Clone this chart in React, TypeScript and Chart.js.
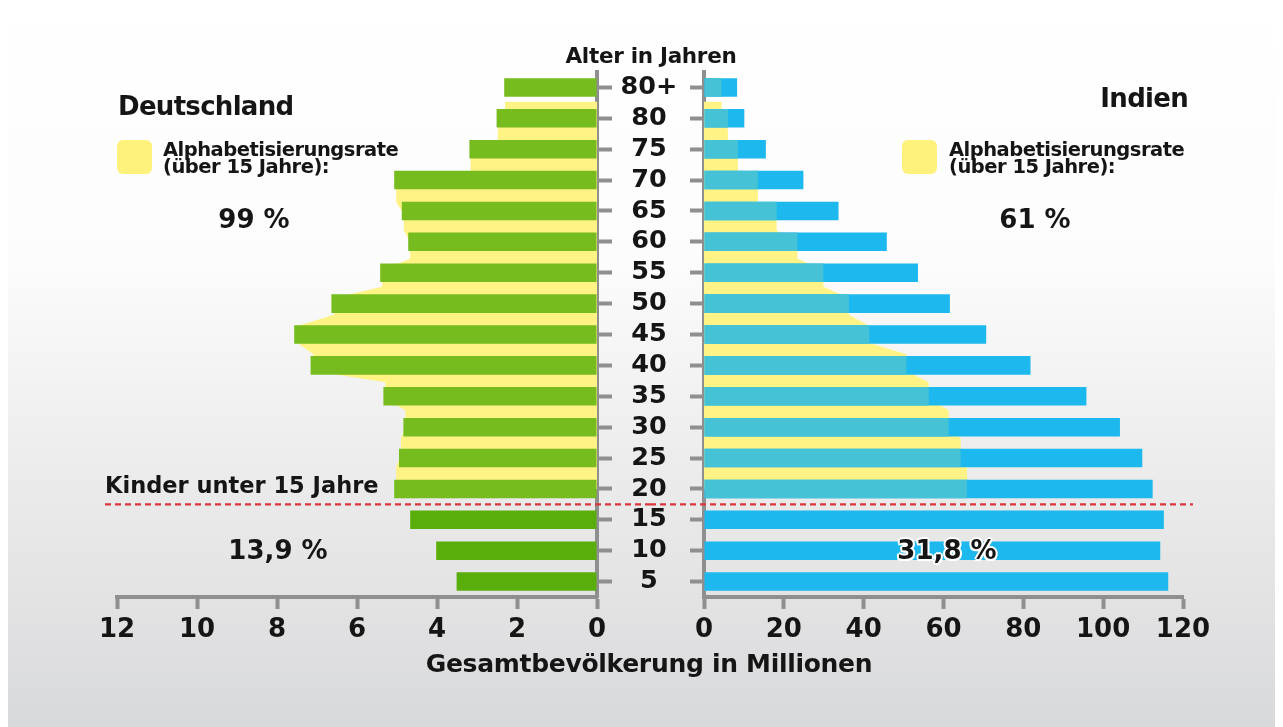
import React, { useEffect, useRef } from 'react';
import { Chart, registerables } from 'chart.js';

Chart.register(...registerables);

// ---------------- data ----------------
const ageLabels = ['80+', '80', '75', '70', '65', '60', '55', '50', '45', '40', '35', '30', '25', '20', '15', '10', '5'];
const childAgeLabels = ['15', '10', '5'];

// population in millions per age group (top = 80+, bottom = 5)
const germanyPopulation = [2.32, 2.51, 3.19, 5.07, 4.88, 4.72, 5.42, 6.64, 7.57, 7.16, 5.34, 4.84, 4.95, 5.07, 4.67, 4.02, 3.51];
// literate population (over 15), age groups 80+ .. 20
const germanyLiterate = [2.3, 2.48, 3.16, 5.02, 4.83, 4.67, 5.37, 6.57, 7.49, 7.09, 5.29, 4.79, 4.9, 5.02];

const indiaPopulation = [8.3, 10.1, 15.5, 24.9, 33.7, 45.8, 53.6, 61.6, 70.7, 81.8, 95.8, 104.2, 109.8, 112.4, 115.2, 114.3, 116.3];
const indiaLiterate = [4.4, 6.0, 8.5, 13.5, 18.2, 23.4, 29.9, 36.3, 41.4, 50.7, 56.3, 61.3, 64.3, 65.9];

const germanyAxisMax = 12;
const germanyTickStep = 2;
const indiaAxisMax = 120;
const indiaTickStep = 20;

// ---------------- style ----------------
const FONT = "'DejaVu Sans', 'Noto Sans', sans-serif";
const AXIS_GRAY = '#8f8f8f';
const GREEN = '#76bc1e';
const GREEN_CHILD = '#5aae0b';
const YELLOW = '#fff385';
const BLUE = '#1cb8ee';
const TEAL = '#46c2d6';
const RED = '#d9363e';
const TEXT = '#151515';
const BAR_FRACTION = 0.6;

function literacyPoints(values: number[]) {
  const half = BAR_FRACTION / 2;
  const pts: { x: number; y: number }[] = [];
  values.forEach((v, i) => {
    pts.push({ x: v, y: i - half });
    pts.push({ x: v, y: i + half });
  });
  pts.push({ x: values[values.length - 1], y: values.length - 0.5 });
  return pts;
}

function dashedLinePlugin(x0: number, x1: number) {
  return {
    id: 'childLine',
    afterDraw(chart: any) {
      const y = chart.scales.y;
      const i = ageLabels.indexOf(childAgeLabels[0]);
      const py = (y.getPixelForValue(i - 1) + y.getPixelForValue(i)) / 2;
      const ctx = chart.ctx;
      ctx.save();
      ctx.strokeStyle = RED;
      ctx.lineWidth = 2.2;
      ctx.setLineDash([6, 4]);
      ctx.lineDashOffset = 0;
      ctx.beginPath();
      ctx.moveTo(x0, py);
      ctx.lineTo(x1, py);
      ctx.stroke();
      ctx.restore();
    },
  };
}

const tickFont = (size: number) => ({ family: FONT, size, weight: 'bold' as const });

function xScale(max: number, step: number, reverse: boolean) {
  return {
    type: 'linear',
    axis: 'x',
    position: 'bottom',
    min: 0,
    max,
    reverse,
    ticks: { stepSize: step, font: tickFont(26), color: TEXT, padding: 6, maxRotation: 0, autoSkip: false },
    grid: { drawOnChartArea: false, drawTicks: true, tickLength: 12, tickWidth: 4, color: AXIS_GRAY },
    border: { display: true, width: 4, color: AXIS_GRAY },
    afterFit: (s: any) => {
      s.height = 80;
    },
  };
}

const y2Scale = {
  type: 'linear',
  axis: 'y',
  display: false,
  min: -0.5,
  max: ageLabels.length - 0.5,
  reverse: true,
};

function Txt(props: {
  x: number;
  base: number;
  size: number;
  align?: 'left' | 'center' | 'right';
  ls?: number;
  style?: React.CSSProperties;
  children: React.ReactNode;
}) {
  const { x, base, size, align = 'left', ls = 0, style, children } = props;
  const top = base - 0.846 * size;
  const transform = align === 'center' ? 'translateX(-50%)' : align === 'right' ? 'translateX(-100%)' : undefined;
  return (
    <div
      style={{
        position: 'absolute',
        left: x,
        top,
        fontFamily: FONT,
        fontWeight: 'bold',
        fontSize: size,
        lineHeight: `${size}px`,
        letterSpacing: ls,
        color: TEXT,
        whiteSpace: 'nowrap',
        transform,
        zIndex: 5,
        ...style,
      }}
    >
      {children}
    </div>
  );
}

export default function App() {
  const leftRef = useRef<HTMLCanvasElement>(null);
  const rightRef = useRef<HTMLCanvasElement>(null);

  useEffect(() => {
    const germanyColors = ageLabels.map((l) => (childAgeLabels.includes(l) ? GREEN_CHILD : GREEN));

    const left = new Chart(leftRef.current as HTMLCanvasElement, {
      type: 'bar',
      data: {
        labels: ageLabels,
        datasets: [
          {
            type: 'bar',
            label: 'Deutschland',
            data: germanyPopulation,
            backgroundColor: germanyColors,
            grouped: false,
            barPercentage: BAR_FRACTION,
            categoryPercentage: 1,
            xAxisID: 'x',
            yAxisID: 'y',
            order: 1,
          } as any,
          {
            type: 'line',
            label: 'Alphabetisierungsrate',
            data: literacyPoints(germanyLiterate),
            indexAxis: 'y',
            xAxisID: 'x',
            yAxisID: 'y2',
            fill: 'origin',
            backgroundColor: YELLOW,
            borderColor: 'rgba(0,0,0,0)',
            borderWidth: 0,
            pointRadius: 0,
            tension: 0,
            order: 2,
          } as any,
        ],
      },
      options: {
        indexAxis: 'y',
        responsive: false,
        animation: false,
        devicePixelRatio: 1,
        layout: { padding: { left: 117, right: 0, top: 72, bottom: 50 } },
        plugins: { legend: { display: false }, tooltip: { enabled: false } },
        scales: {
          x: xScale(germanyAxisMax, germanyTickStep, true),
          y: {
            type: 'category',
            position: 'right',
            ticks: { font: tickFont(25.5), color: TEXT, padding: 8.5, crossAlign: 'center', autoSkip: false },
            grid: { drawOnChartArea: false, drawTicks: true, tickLength: 15, tickWidth: 4, color: AXIS_GRAY, offset: false },
            border: { display: true, width: 4, color: AXIS_GRAY },
            afterFit: (s: any) => {
              s.width = 107;
            },
          },
          y2: y2Scale,
        } as any,
      },
      plugins: [dashedLinePlugin(105, 650)],
    } as any);

    const right = new Chart(rightRef.current as HTMLCanvasElement, {
      type: 'bar',
      data: {
        labels: ageLabels,
        datasets: [
          {
            type: 'bar',
            label: 'Indien alphabetisiert',
            data: indiaLiterate,
            backgroundColor: TEAL,
            grouped: false,
            barPercentage: BAR_FRACTION,
            categoryPercentage: 1,
            xAxisID: 'x',
            yAxisID: 'y',
            order: 0,
          } as any,
          {
            type: 'bar',
            label: 'Indien',
            data: indiaPopulation,
            backgroundColor: BLUE,
            grouped: false,
            barPercentage: BAR_FRACTION,
            categoryPercentage: 1,
            xAxisID: 'x',
            yAxisID: 'y',
            order: 1,
          } as any,
          {
            type: 'line',
            label: 'Alphabetisierungsrate',
            data: literacyPoints(indiaLiterate),
            indexAxis: 'y',
            xAxisID: 'x',
            yAxisID: 'y2',
            fill: 'origin',
            backgroundColor: YELLOW,
            borderColor: 'rgba(0,0,0,0)',
            borderWidth: 0,
            pointRadius: 0,
            tension: 0,
            order: 2,
          } as any,
        ],
      },
      options: {
        indexAxis: 'y',
        responsive: false,
        animation: false,
        devicePixelRatio: 1,
        layout: { padding: { left: 0, right: 100, top: 72, bottom: 50 } },
        plugins: { legend: { display: false }, tooltip: { enabled: false } },
        scales: {
          x: xScale(indiaAxisMax, indiaTickStep, false),
          y: {
            type: 'category',
            position: 'left',
            ticks: { display: false, autoSkip: false },
            grid: { drawOnChartArea: false, drawTicks: true, tickLength: 14, tickWidth: 4, color: AXIS_GRAY, offset: false },
            border: { display: true, width: 4, color: AXIS_GRAY },
            afterFit: (s: any) => {
              s.width = 54;
            },
          },
          y2: y2Scale,
        } as any,
      },
      plugins: [dashedLinePlugin(0, 543)],
    } as any);

    return () => {
      left.destroy();
      right.destroy();
    };
  }, []);

  const legendBox: React.CSSProperties = {
    position: 'absolute',
    width: 35,
    height: 34,
    top: 140,
    background: '#fff27c',
    borderRadius: 6,
  };

  return (
    <div style={{ position: 'absolute', left: 0, top: 0, width: 1283, height: 727, overflow: 'hidden', background: '#fff' }}>
      <div
        style={{
          position: 'absolute',
          left: 8,
          top: 0,
          width: 1267,
          height: 727,
          background: 'linear-gradient(to bottom, #ffffff 0%, #fcfcfc 36%, #ededed 62%, #e4e4e5 80%, #d8d9db 100%)',
        }}
      />
      <canvas ref={leftRef} width={704} height={727} style={{ position: 'absolute', left: 0, top: 0, width: 704, height: 727, zIndex: 1 }} />
      <canvas ref={rightRef} width={633} height={727} style={{ position: 'absolute', left: 650, top: 0, width: 633, height: 727, zIndex: 2 }} />

      <Txt x={651} base={63} size={21.5} align="center" ls={-0.3}>Alter in Jahren</Txt>

      <Txt x={118} base={115} size={26} ls={-0.7}>Deutschland</Txt>
      <div style={{ ...legendBox, left: 117 }} />
      <Txt x={163} base={156} size={19.5} ls={-0.5}>Alphabetisierungsrate</Txt>
      <Txt x={163} base={173} size={19.5} ls={-0.5}>(über 15 Jahre):</Txt>
      <Txt x={254} base={228} size={26} align="center">99 %</Txt>

      <Txt x={1188} base={107} size={26} align="right" ls={-0.7}>Indien</Txt>
      <div style={{ ...legendBox, left: 902 }} />
      <Txt x={949} base={156} size={19.5} ls={-0.5}>Alphabetisierungsrate</Txt>
      <Txt x={949} base={173} size={19.5} ls={-0.5}>(über 15 Jahre):</Txt>
      <Txt x={1035} base={228} size={26} align="center">61 %</Txt>

      <Txt x={105} base={493} size={22.5}>Kinder unter 15 Jahre</Txt>
      <Txt x={278} base={559} size={26} align="center">13,9 %</Txt>
      <Txt
        x={947}
        base={559}
        size={26}
        align="center"
        style={{
          textShadow:
            '2px 0 0 #fff, -2px 0 0 #fff, 0 2px 0 #fff, 0 -2px 0 #fff, 1.5px 1.5px 0 #fff, -1.5px -1.5px 0 #fff, 1.5px -1.5px 0 #fff, -1.5px 1.5px 0 #fff',
        }}
      >
        31,8 %
      </Txt>

      <Txt x={649} base={672} size={25} align="center" ls={-0.3}>Gesamtbevölkerung in Millionen</Txt>
    </div>
  );
}
